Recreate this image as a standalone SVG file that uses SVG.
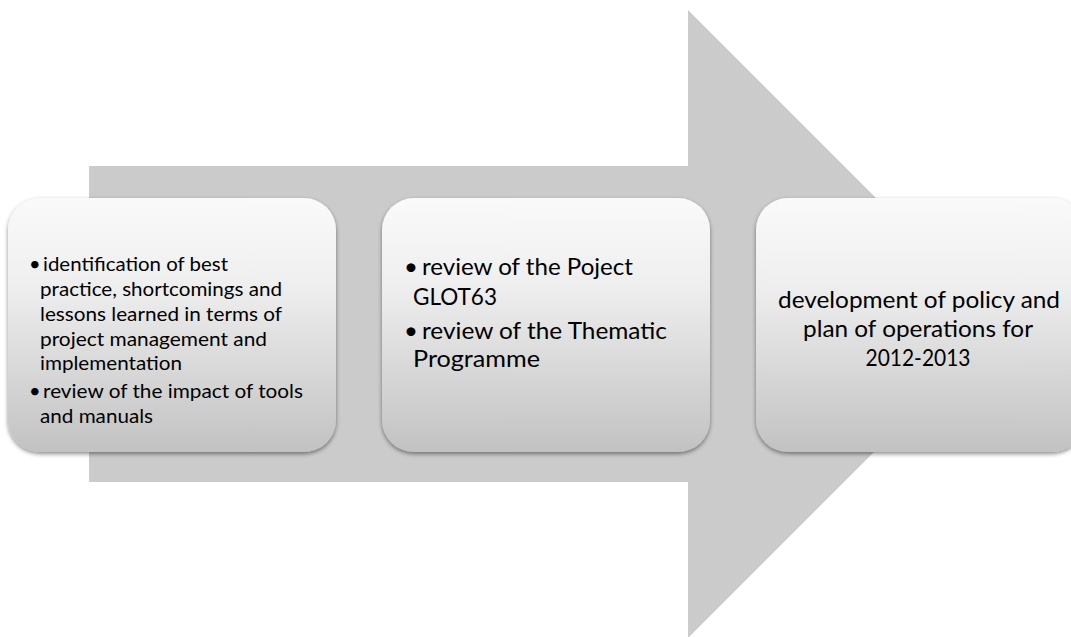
<svg xmlns="http://www.w3.org/2000/svg" width="1071" height="637" viewBox="0 0 1071 637">
<style>
.t1{font-family:Lato,"Liberation Sans",sans-serif;font-size:20px;fill:#000}
.t2{font-family:Lato,"Liberation Sans",sans-serif;font-size:24px;fill:#000}
.box{fill:url(#g);filter:url(#sh)}
</style>
<defs>
<linearGradient id="g" x1="0" y1="0" x2="0" y2="1">
<stop offset="0" stop-color="#fafafa"/>
<stop offset="0.35" stop-color="#eeeeee"/>
<stop offset="1" stop-color="#c2c2c2"/>
</linearGradient>
<filter id="sh" x="-5%" y="-5%" width="110%" height="115%">
<feDropShadow dx="0" dy="2" stdDeviation="2" flood-color="#000" flood-opacity="0.45"/>
</filter>
</defs>
<rect width="1071" height="637" fill="#ffffff"/>
<g id="arrow">
<polygon points="89,166 688,166 688,10 1002,324 688,638 688,482 89,482" fill="#cbcbcb"/>
</g>
<g id="connectors"></g>
<g id="node1">
<rect class="box" x="8" y="198" width="328" height="254" rx="32"/>
<text class="t1" x="29" y="271">•</text>
<text class="t1" x="43" y="271" textLength="185" lengthAdjust="spacingAndGlyphs">identification of best</text>
<text class="t1" x="40" y="296" textLength="242" lengthAdjust="spacingAndGlyphs">practice, shortcomings and</text>
<text class="t1" x="40" y="321" textLength="242" lengthAdjust="spacingAndGlyphs">lessons learned in terms of</text>
<text class="t1" x="40" y="346" textLength="227" lengthAdjust="spacingAndGlyphs">project management and</text>
<text class="t1" x="40" y="370" textLength="142" lengthAdjust="spacingAndGlyphs">implementation</text>
<text class="t1" x="29" y="398">•</text>
<text class="t1" x="43" y="398" textLength="260" lengthAdjust="spacingAndGlyphs">review of the impact of tools</text>
<text class="t1" x="40" y="423" textLength="113" lengthAdjust="spacingAndGlyphs">and manuals</text>
</g>
<g id="node2">
<rect class="box" x="382" y="198" width="328" height="254" rx="32"/>
<text class="t2" x="404" y="275">•</text>
<text class="t2" x="422" y="275" textLength="211" lengthAdjust="spacingAndGlyphs">review of the Poject</text>
<text class="t2" x="413" y="305" textLength="84" lengthAdjust="spacingAndGlyphs">GLOT63</text>
<text class="t2" x="404" y="339">•</text>
<text class="t2" x="422" y="339" textLength="245" lengthAdjust="spacingAndGlyphs">review of the Thematic</text>
<text class="t2" x="413" y="367" textLength="127" lengthAdjust="spacingAndGlyphs">Programme</text>
</g>
<g id="node3">
<rect class="box" x="756" y="198" width="328" height="254" rx="32"/>
<text class="t2" x="919" y="308" text-anchor="middle" textLength="282" lengthAdjust="spacingAndGlyphs">development of policy and</text>
<text class="t2" x="918" y="337" text-anchor="middle" textLength="230" lengthAdjust="spacingAndGlyphs">plan of operations for</text>
<text class="t2" x="918" y="366" text-anchor="middle" textLength="105" lengthAdjust="spacingAndGlyphs">2012-2013</text>
</g>
</svg>
